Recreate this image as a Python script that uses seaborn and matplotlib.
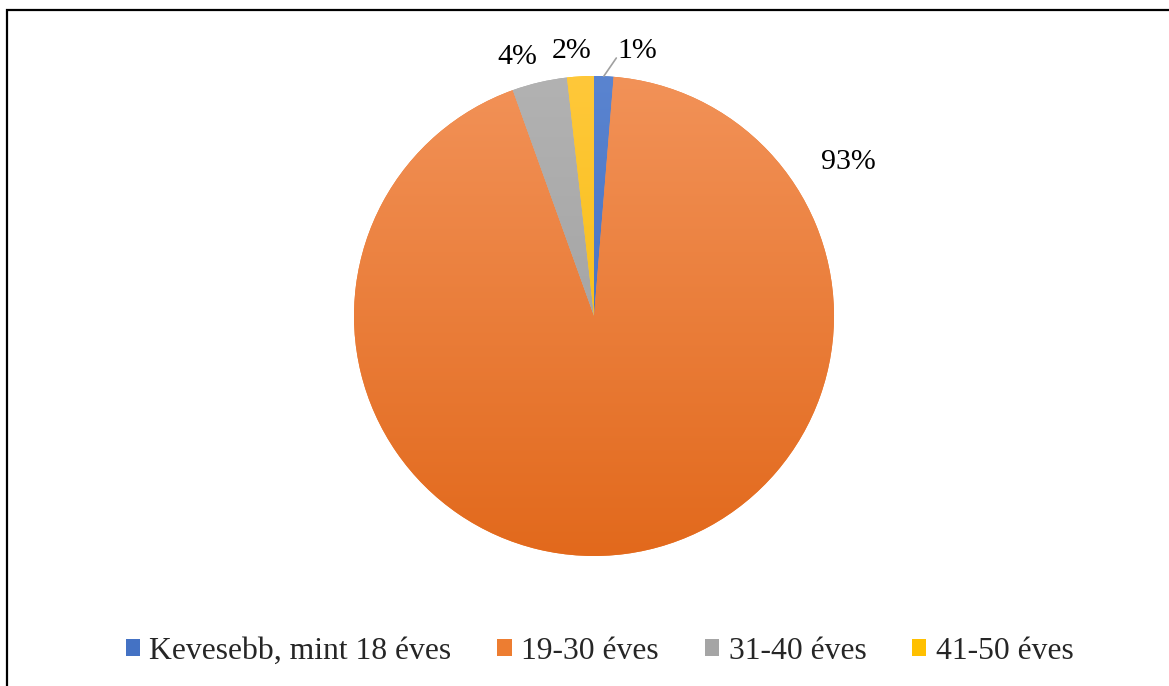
import numpy as np
import matplotlib
matplotlib.use("Agg")
import matplotlib.pyplot as plt
import matplotlib.colors as mcolors
from matplotlib.patches import Patch, Rectangle
import seaborn as sns

# data (share of respondents, %)
categories = ["Kevesebb, mint 18 éves", "19-30 éves", "31-40 éves", "41-50 éves"]
values = [1.3, 93.2, 3.7, 1.8]
pct_labels = ["1%", "93%", "4%", "2%"]

# Office-like palette, with the light (top) / dark (bottom) gradient stops
colors = ["#4472C4", "#ED7D31", "#A5A5A5", "#FFC000"]
top_colors = ["#5A84D0", "#F29258", "#B2B2B2", "#FFC83A"]
bottom_colors = ["#3A66B8", "#E2691C", "#9A9A9A", "#F2B800"]

# where the percentage labels sit (data units, pie radius = 1)
label_pos = [(0.18, 1.103), (1.06, 0.64), (-0.32, 1.08), (-0.092, 1.103)]

sns.set_theme(style="white")
plt.rcParams["font.family"] = ["Liberation Serif", "DejaVu Serif"]

W, H = 1169, 686
fig = plt.figure(figsize=(W / 100, H / 100), dpi=100)
fig.patch.set_facecolor("white")

cx, cy, r = 594, 316, 240
ax = fig.add_axes([(cx - r) / W, (H - cy - r) / H, 2 * r / W, 2 * r / H])
ax.set_axis_off()

wedges, _ = ax.pie(values, colors=colors, startangle=90, counterclock=False,
                   radius=1, center=(0, 0), wedgeprops=dict(linewidth=0))

# vertical gradient over each slice (lighter at top, darker at bottom)
t = np.linspace(0, 1, 256)[:, None, None]
for w, c0, c1 in zip(wedges, top_colors, bottom_colors):
    top = np.array(mcolors.to_rgb(c0))
    bot = np.array(mcolors.to_rgb(c1))
    grad = top * (1 - t) + bot * t
    grad = np.repeat(grad, 2, axis=1)
    im = ax.imshow(grad, extent=[-1, 1, -1, 1], origin="upper", aspect="auto",
                   interpolation="bilinear", zorder=w.get_zorder() + 0.5)
    im.set_clip_path(w)

ax.set_xlim(-1, 1)
ax.set_ylim(-1, 1)
ax.set_aspect("equal")

for lab, (x, y) in zip(pct_labels, label_pos):
    ax.text(x, y, lab, ha="center", va="center", fontsize=21.5, color="black",
            clip_on=False)

# leader line for the smallest slice
mid = np.deg2rad((wedges[0].theta1 + wedges[0].theta2) / 2)
ax.plot([np.cos(mid), 0.093], [np.sin(mid), 1.075], color="#A0A0A0", lw=1.2,
        clip_on=False)

handles = [Patch(facecolor=c, edgecolor="none") for c in colors]
fig.legend(handles, categories, loc="center", bbox_to_anchor=(0.513, 0.05),
           ncol=4, frameon=False, fontsize=22.8, handlelength=0.45,
           handleheight=0.45, handletextpad=0.3, columnspacing=1.45)

# outer frame (only left/top edges visible in the reference crop)
fig.patches.append(Rectangle((7 / W, -0.1), 1.2, 1 - 10 / H + 0.1,
                             transform=fig.transFigure, fill=False,
                             edgecolor="black", lw=1.6))

fig.savefig("out.png", dpi=100, facecolor="white")
